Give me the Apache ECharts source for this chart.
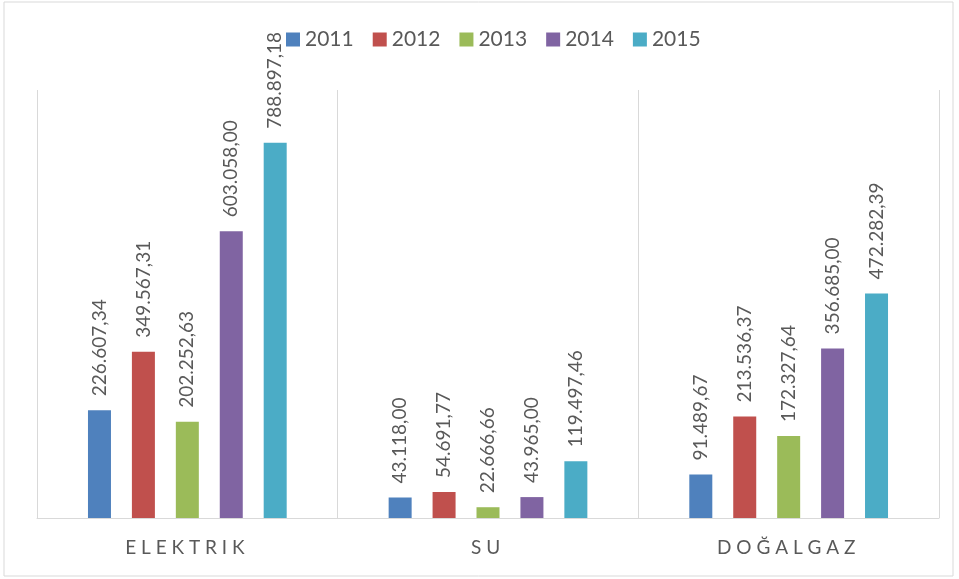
<!DOCTYPE html>
<html>
<head>
<meta charset="utf-8">
<script src="https://cdn.jsdelivr.net/npm/echarts@6/dist/echarts.min.js"></script>
<style>
  html, body { margin: 0; padding: 0; background: #fff; }
  #chart { width: 959px; height: 579px; }
</style>
</head>
<body>
<div id="chart"></div>
<script>
  // kategoriler ve yıllar
  var categories = ['ELEKTRIK', 'SU', 'DOĞALGAZ'];
  var years = ['2011', '2012', '2013', '2014', '2015'];
  var colors = ['#4F81BD', '#C0504D', '#9BBB59', '#8064A2', '#4BACC6'];

  // her yıl için [elektrik, su, doğalgaz]
  var v2011 = [226607.34, 43118.00, 91489.67];
  var v2012 = [349567.31, 54691.77, 213536.37];
  var v2013 = [202252.63, 22666.66, 172327.64];
  var v2014 = [603058.00, 43965.00, 356685.00];
  var v2015 = [788897.18, 119497.46, 472282.39];
  var values = [v2011, v2012, v2013, v2014, v2015];

  // 226607.34 -> 226.607,34
  function trFormat(n) {
    var parts = n.toFixed(2).split('.');
    var intPart = parts[0].replace(/\B(?=(\d{3})+(?!\d))/g, '.');
    return intPart + ',' + parts[1];
  }

  var series = [];
  years.forEach(function (y, i) {
    series.push({
      name: y,
      type: 'bar',
      barWidth: 23,
      barGap: '91%',
      data: values[i],
      itemStyle: { color: colors[i] },
      label: {
        show: true,
        position: 'top',
        rotate: 90,
        align: 'left',
        verticalAlign: 'middle',
        distance: 14,
        color: '#595959',
        fontFamily: 'Lato',
        fontSize: 19,
        formatter: function (p) { return trFormat(p.value); }
      }
    });
  });

  var myChart = echarts.init(document.getElementById('chart'));
  myChart.setOption({
    animation: false,
    color: colors,
    graphic: [{
      type: 'rect',
      shape: { x: 4, y: 2, width: 949, height: 574 },
      style: { fill: 'none', stroke: '#d9d9d9', lineWidth: 1 },
      silent: true
    }],
    legend: {
      data: years,
      left: 281,
      top: 24,
      itemWidth: 14,
      itemHeight: 14,
      itemGap: 19,
      icon: 'rect',
      textStyle: { color: '#595959', fontFamily: 'Lato', fontSize: 21 }
    },
    grid: { left: 37, right: 20, top: 90, bottom: 61 },
    xAxis: {
      type: 'category',
      data: categories,
      axisLine: { show: true, lineStyle: { color: '#d9d9d9' } },
      axisTick: { show: false },
      splitLine: { show: true, lineStyle: { color: '#d9d9d9' } },
      axisLabel: {
        margin: 20,
        color: '#595959',
        fontFamily: 'Lato',
        fontSize: 19,
        formatter: function (s) { return s.split('').join(' ') + ' '; }
      }
    },
    yAxis: {
      type: 'value',
      min: 0,
      max: 900000,
      show: false,
      splitLine: { show: false }
    },
    series: series
  });
</script>
</body>
</html>
